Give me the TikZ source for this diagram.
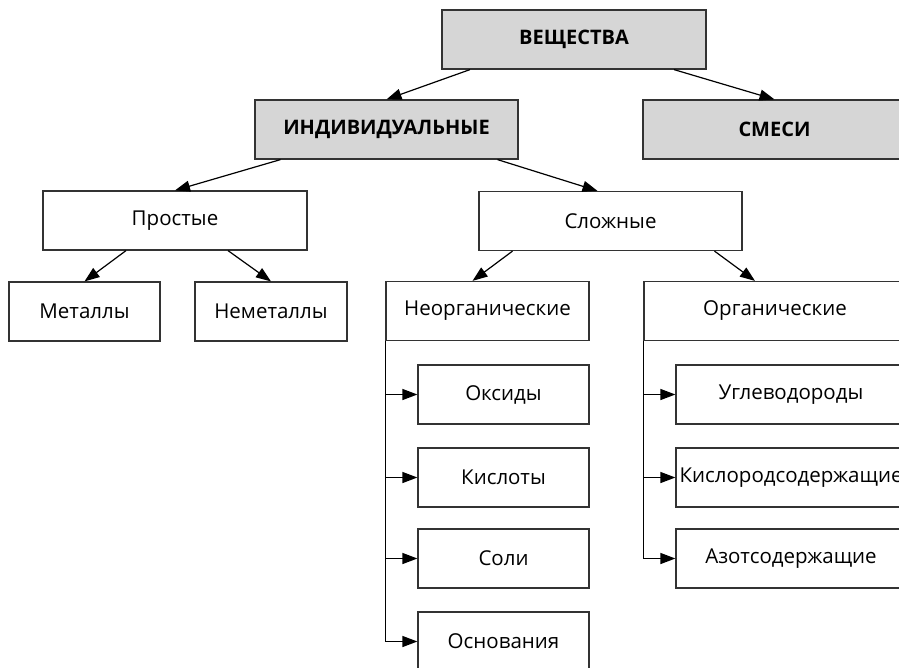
\documentclass[tikz,border=0pt]{standalone}
\usepackage{fontspec}
\setmainfont{Open Sans}
\usetikzlibrary{arrows.meta}

\tikzset{
  box/.style={draw=black!80, line width=1.2pt, inner sep=0pt, minimum height=59pt,
    font=\fontsize{20.5}{24}\selectfont},
  group/.style={box, fill=black!16, font=\fontsize{20}{24}\selectfont\bfseries},
  tip/.style={-{Triangle[length=15pt,width=11pt]}, line width=1.2pt},
}

\begin{document}
\begin{tikzpicture}[x=1pt,y=-1pt]
        \useasboundingbox (0,0) rectangle (899,667);
        \clip (0,0) rectangle (899,667);
        % top levels
        \node[group, minimum width=264pt] (veshch) at (574,39.5) {ВЕЩЕСТВА};
        \node[group, minimum width=263pt] (indiv) at (386.5,129.5) {ИНДИВИДУАЛЬНЫЕ};
        \node[group, minimum width=263pt] (smesi) at (774.5,129.5) {СМЕСИ};
        \node[box, minimum width=264pt] (prost) at (175,220.5) {Простые};
        \node[box, minimum width=263pt] (slozh) at (610.5,221) {Сложные};
        \node[box, minimum width=151pt] (metal) at (84.5,311.5) {Металлы};
        \node[box, minimum width=152pt] (nemet) at (271,311.5) {Неметаллы};
        \node[box, minimum width=203pt] (neorg) at (487.5,311) {Неорганические};
        \node[box, minimum width=262pt] (org) at (775,311) {Органические};
        % classes
        \node[box, minimum width=171pt] (oksid) at (503.5,394.5) {Оксиды};
        \node[box, minimum width=171pt] (kislot) at (503.5,477.5) {Кислоты};
        \node[box, minimum width=171pt] (soli) at (503.5,558.5) {Соли};
        \node[box, minimum width=171pt] (osnov) at (503.5,641.5) {Основания};
        \node[box, minimum width=230pt] (uglev) at (791,394.5) {Углеводороды};
        \node[box, minimum width=230pt] (kislsod) at (791,477.5) {Кислородсодержащие};
        \node[box, minimum width=230pt] (azot) at (791,558.5) {Азотсодержащие};
        \path[draw,tip] ([xshift=-104pt]veshch.south) -- (indiv.north);
        \path[draw,tip] ([xshift=100pt]veshch.south) -- (smesi.north);
        \path[draw,tip] ([xshift=-106pt]indiv.south) -- (prost.north);
        \path[draw,tip] ([xshift=111pt]indiv.south) -- ([xshift=-13pt]slozh.north);
        \path[draw,tip] ([xshift=-49pt]prost.south) -- (metal.north);
        \path[draw,tip] ([xshift=53pt]prost.south) -- (nemet.north);
        \path[draw,tip] ([xshift=-98pt]slozh.south) -- ([xshift=-15pt]neorg.north);
        \path[draw,tip] ([xshift=104pt]slozh.south) -- ([xshift=-20pt]org.north);
        \foreach \n in {oksid,kislot,soli,osnov}
          \path[draw,tip] (neorg.south west) |- (\n.west);
        \foreach \n in {uglev,kislsod,azot}
          \path[draw,tip] (org.south west) |- (\n.west);
\end{tikzpicture}
\end{document}
